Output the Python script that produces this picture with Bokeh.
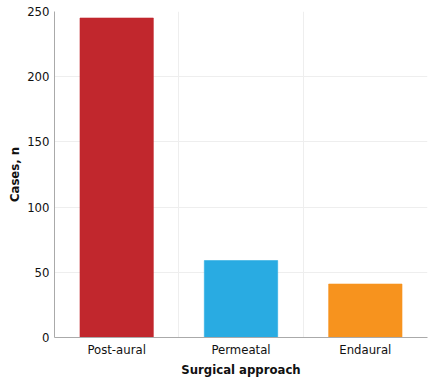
from bokeh.plotting import figure
from bokeh.models import ColumnDataSource, FixedTicker, Range1d
from bokeh.embed import file_html
from bokeh.resources import INLINE

categories = ["Post-aural", "Permeatal", "Endaural"]
cases = [245, 59, 41]
colors = ["#C1272D", "#29ABE2", "#F7931E"]
y_ticks = [0, 50, 100, 150, 200, 250]

FONT = "DejaVu Sans Condensed"

xs = [i + 0.5 for i in range(len(categories))]
src = ColumnDataSource(dict(x=xs, top=cases, color=colors, cat=categories))

p = figure(width=444, height=379, output_backend="svg", toolbar_location=None,
           x_range=Range1d(0, len(categories)), y_range=Range1d(0, 250),
           min_border_left=54, min_border_right=17, min_border_top=11, min_border_bottom=42)
p.outline_line_color = None
p.background_fill_color = "white"

p.vbar(x="x", top="top", width=0.59, bottom=0, color="color", line_color="color",
       line_alpha=0.6, source=src)

p.xaxis.ticker = FixedTicker(ticks=xs)
p.xaxis.major_label_overrides = {x: c for x, c in zip(xs, categories)}
p.xgrid.ticker = FixedTicker(ticks=list(range(1, len(categories) + 1)))
p.yaxis.ticker = FixedTicker(ticks=y_ticks)
p.ygrid.ticker = FixedTicker(ticks=y_ticks[1:])

for g in (p.xgrid, p.ygrid):
    g.grid_line_color = "#eeeeee"
    g.grid_line_width = 1

for ax in (p.xaxis, p.yaxis):
    ax.axis_line_color = "#aaaaaa"
    ax.major_tick_line_color = None
    ax.minor_tick_line_color = None
    ax.major_tick_out = 0
    ax.major_tick_in = 0
    ax.minor_tick_out = 0
    ax.minor_tick_in = 0
    ax.major_label_text_font = FONT
    ax.major_label_text_font_size = "13px"
    ax.major_label_text_color = "#111111"
    ax.axis_label_text_font = FONT
    ax.axis_label_text_font_size = "13px"
    ax.axis_label_text_font_style = "bold"
    ax.axis_label_text_color = "#111111"

p.xaxis.major_label_standoff = 4
p.yaxis.major_label_standoff = 5
p.xaxis.axis_label = "Surgical approach"
p.yaxis.axis_label = "Cases, n"
p.xaxis.axis_label_standoff = 2
p.yaxis.axis_label_standoff = 2

open("out.html", "w").write(file_html(p, INLINE))
